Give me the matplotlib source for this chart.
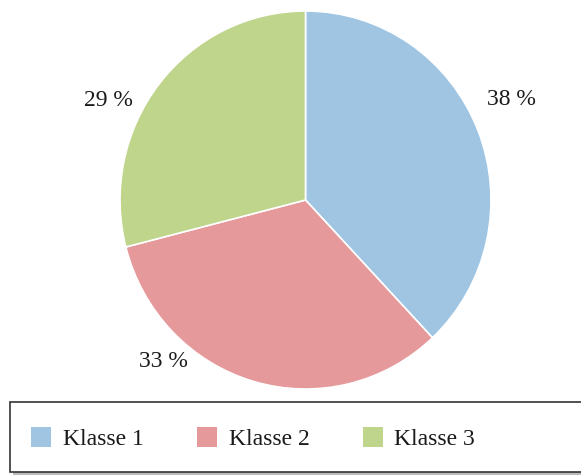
import matplotlib.pyplot as plt
from matplotlib.patches import Rectangle

klassen = ["Klasse 1", "Klasse 2", "Klasse 3"]
anteile = [38, 33, 29]
farben = ["#9fc5e3", "#e6999b", "#c0d58c"]
# label positions in axes data units (pie radius = 1)
label_pos = [(1.108, 0.534), (-0.768, -0.857), (-1.065, 0.524)]

W, H = 581, 475
plt.rcParams["font.family"] = ["Liberation Serif", "DejaVu Serif"]
fig = plt.figure(figsize=(W / 100, H / 100), dpi=100)

# pie axes: centre (305.5, 200) px, radii 185.5 x 189 px
ax = fig.add_axes([120 / W, 86 / H, 371 / W, 378 / H])
wedges, texts = ax.pie(anteile, colors=farben, startangle=90, counterclock=False,
                       labels=["%d %%" % a for a in anteile],
                       wedgeprops=dict(edgecolor="white", linewidth=1.2),
                       textprops=dict(fontsize=17, color="#1a1a1a"))
for t, (x, y) in zip(texts, label_pos):
    t.set_position((x, y))
    t.set_ha("center")
    t.set_va("center")
ax.set_aspect("auto")
ax.set_xlim(-1, 1)
ax.set_ylim(-1, 1)

# legend frame with shadow, running past the right edge
fig.patches.append(Rectangle((13 / W, 0 / H), 600 / W, 70 / H, transform=fig.transFigure,
                             facecolor="#bbbbbb", edgecolor="none", zorder=0))
fig.patches.append(Rectangle((10 / W, 3 / H), 600 / W, 70 / H, transform=fig.transFigure,
                             facecolor="white", edgecolor="#333333", linewidth=1.2, zorder=1))
leg = fig.legend(wedges, klassen, loc="center left", bbox_to_anchor=(31 / W, 36.5 / H),
                 ncol=3, frameon=False, fontsize=17, handlelength=0.85, handleheight=0.9,
                 handletextpad=0.5, columnspacing=2.25, borderaxespad=0, borderpad=0,
                 labelcolor="#1a1a1a")
for h in leg.legend_handles:
    h.set_edgecolor("none")

fig.savefig("out.png", dpi=100, facecolor="white")
